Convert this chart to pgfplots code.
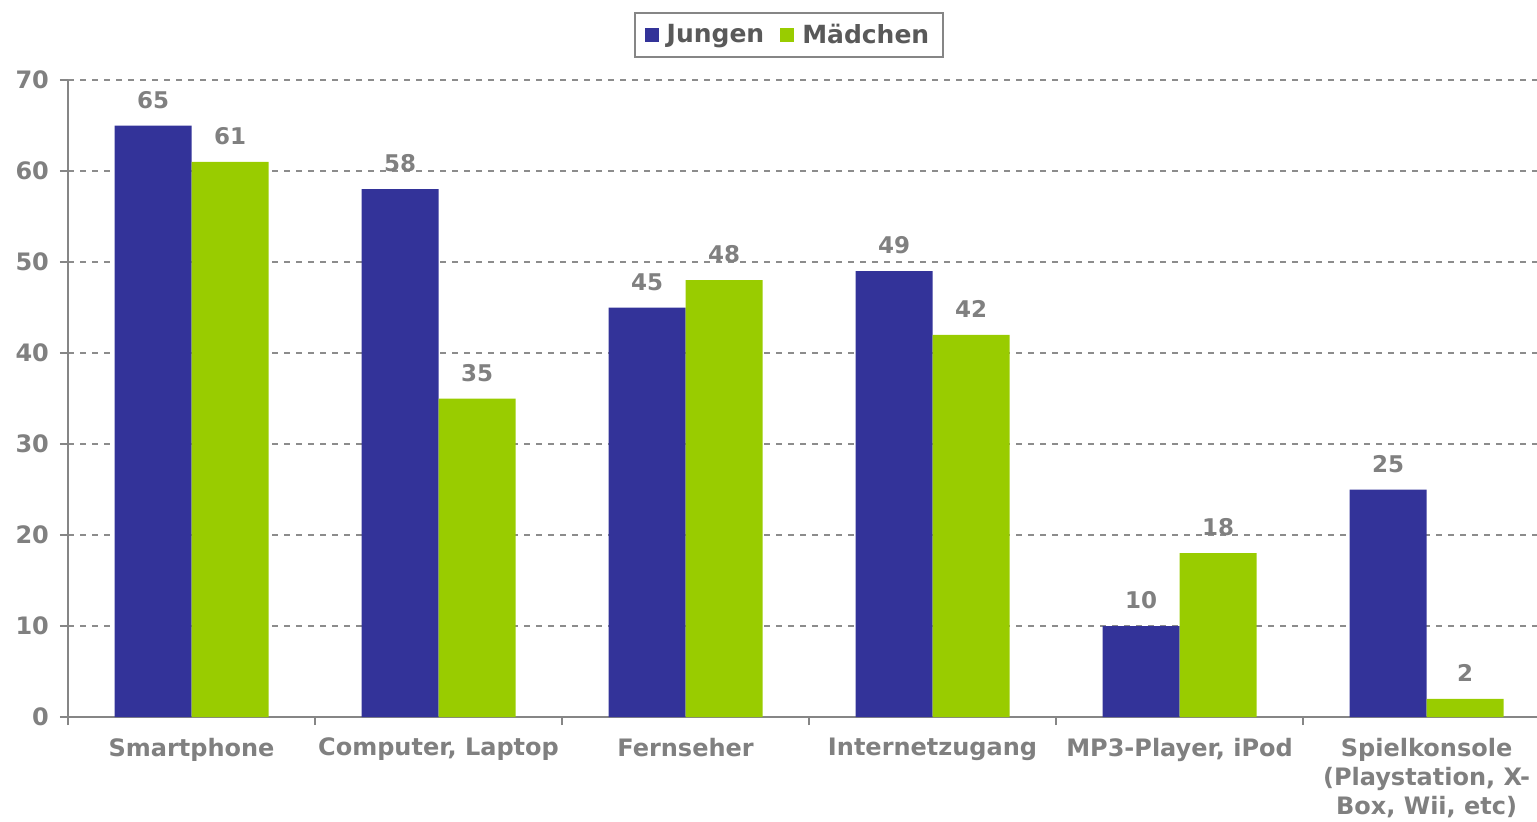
\documentclass[border=0pt]{standalone}
\usepackage{pgfplots}
\pgfplotsset{compat=1.18}
\usepackage{fontspec}
\setmainfont{DejaVu Sans}
\definecolor{jblue}{RGB}{51,51,153}
\definecolor{mgreen}{RGB}{153,204,0}
\definecolor{lblgray}{RGB}{128,128,128}
\definecolor{leggray}{RGB}{89,89,89}
\definecolor{axgray}{RGB}{134,134,134}
\definecolor{gridgray}{RGB}{140,140,140}
\begin{document}
\begin{tikzpicture}[x=1pt,y=1pt]
\useasboundingbox (0,0) rectangle (768.5,410.5);
\begin{axis}[
  at={(34pt,52pt)}, anchor=south west,
  scale only axis, width=734.5pt, height=318.5pt,
  ymin=0, ymax=70, ytick={0,10,...,70},
  xmin=-0.5, xmax=5.447,
  /pgf/number format/assume math mode=true,
  axis x line*=bottom, axis y line*=left,
  axis line style={draw=axgray, line width=1pt, -},
  ymajorgrids, grid style={dashed, draw=gridgray, line width=0.6pt},
  ybar=0pt, bar width=38.5pt,
  xtick={0,...,5},
  xticklabels={Smartphone, {Computer, Laptop}, Fernseher, Internetzugang, {MP3-Player, iPod}, {Spielkonsole\\(Playstation, X-\\Box, Wii, etc)}},
  minor xtick={-0.5,0.5,...,4.5},
  tick align=outside,
  major tick length=4pt, minor tick length=4pt,
  major x tick style={draw=none},
  minor x tick style={draw=axgray, line width=1pt},
  y tick style={draw=axgray, line width=1pt},
  tick label style={font=\fontsize{12}{14.5}\selectfont\bfseries, text=lblgray},
  xticklabel style={align=center, yshift=-3pt},
  yticklabel style={xshift=-2pt},
  nodes near coords,
  every node near coord/.append style={font=\fontsize{11.5}{14}\selectfont\bfseries, text=lblgray, yshift=5pt},
  legend style={at={(0.4908,1.1068)}, anchor=north, legend columns=2, draw=axgray, line width=1pt,
    font=\fontsize{12.5}{15}\selectfont\bfseries, text=leggray, inner ysep=3.5pt, inner xsep=5pt,
    /tikz/every even column/.append style={column sep=6pt}},
  legend image code/.code={\path[#1, draw=none] (0pt,-3.5pt) rectangle (7pt,3.5pt); \path (9pt,0pt);},
  clip=false,
]
\addplot[fill=jblue, draw=none] coordinates {(0,65) (1,58) (2,45) (3,49) (4,10) (5,25)};
\addplot[fill=mgreen, draw=none] coordinates {(0,61) (1,35) (2,48) (3,42) (4,18) (5,2)};
\legend{Jungen, Mädchen}
\end{axis}
\end{tikzpicture}
\end{document}
